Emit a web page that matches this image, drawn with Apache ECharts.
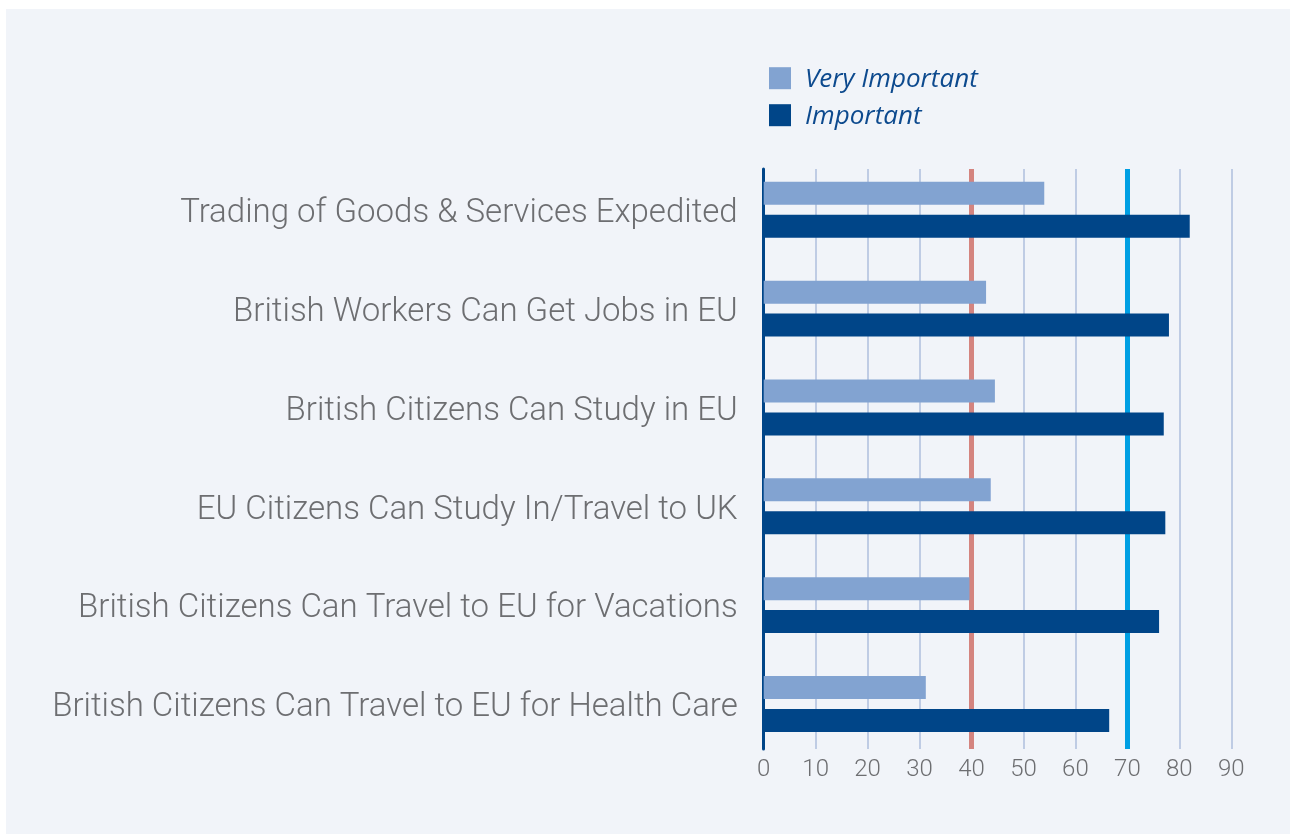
<!DOCTYPE html>
<html>
<head>
<meta charset="utf-8">
<script src="https://cdn.jsdelivr.net/npm/echarts@6/dist/echarts.min.js"></script>
<style>
  html, body { margin: 0; padding: 0; background: #ffffff; }
  #panel { position: absolute; left: 6px; top: 9px; width: 1284px; height: 825px; background: #f1f4f9; }
  #chart { position: absolute; left: 0; top: 0; width: 1290px; height: 834px; }
</style>
</head>
<body>
<div id="panel"></div>
<div id="chart"></div>
<script>
// Survey answers: share of respondents (%)
const categories = [
  'Trading of Goods & Services Expedited',
  'British Workers Can Get Jobs in EU',
  'British Citizens Can Study in EU',
  'EU Citizens Can Study In/Travel to UK',
  'British Citizens Can Travel to EU for Vacations',
  'British Citizens Can Travel to EU for Health Care'
];
const veryImportant = [54, 42.8, 44.5, 43.7, 39.6, 31.2];
const important = [82, 78, 77, 77.3, 76.1, 66.5];
const referenceLines = [40, 70];
const xTicks = { min: 0, max: 90, interval: 10 };

const chart = echarts.init(document.getElementById('chart'), null, { renderer: 'canvas' });

const textGray = '#6d6e71';
const left = 763.7;
const right = 1290 - 1231.3;

chart.setOption({
  animation: false,
  backgroundColor: 'transparent',
  legend: {
    orient: 'vertical',
    left: 769,
    top: 66.7,
    padding: 0,
    itemWidth: 22,
    itemHeight: 22,
    itemGap: 11,
    icon: 'rect',
    data: ['Very Important', 'Important'],
    formatter: '{t|{name}}',
    textStyle: {
      rich: {
        t: {
          color: '#0d4a8e',
          fontStyle: 'italic',
          fontFamily: 'Open Sans',
          fontSize: 26,
          padding: [3, 0, 0, 9]
        }
      }
    }
  },
  grid: [
    // band for the bars and category labels
    { left: left, right: right, top: 160.4, height: 593, containLabel: false },
    // band for gridlines, reference lines and the value axis
    { left: left, right: right, top: 169, bottom: 85, containLabel: false }
  ],
  xAxis: [
    { gridIndex: 0, type: 'value', min: xTicks.min, max: xTicks.max, interval: xTicks.interval, show: false },
    {
      gridIndex: 1, type: 'value', min: xTicks.min, max: xTicks.max, interval: xTicks.interval,
      axisLine: { show: false },
      axisTick: { show: false },
      splitLine: { show: true, lineStyle: { color: '#aebfdc', width: 1.5 } },
      axisLabel: { color: textGray, fontSize: 24, fontFamily: 'Roboto', fontWeight: 300, margin: 9 }
    }
  ],
  yAxis: [
    {
      gridIndex: 0, type: 'category', data: categories, inverse: true,
      axisLine: { show: false },
      axisTick: { show: false },
      splitLine: { show: false },
      axisLabel: {
        margin: 26,
        formatter: '{c|{value}}',
        rich: {
          c: { color: textGray, fontSize: 33, fontFamily: 'Roboto', fontWeight: 300, padding: [8, 0, 0, 0] }
        }
      }
    },
    {
      gridIndex: 1, type: 'category', data: [''],
      axisLine: { show: true, lineStyle: { color: '#004588', width: 3 } },
      axisTick: { show: false },
      axisLabel: { show: false },
      splitLine: { show: false }
    }
  ],
  series: [
    {
      name: 'reference',
      type: 'line',
      xAxisIndex: 1,
      yAxisIndex: 1,
      data: [],
      z: 1,
      markLine: {
        z: 1,
        silent: true,
        symbol: 'none',
        label: { show: false },
        data: [
          { xAxis: referenceLines[0], lineStyle: { color: '#d4847f', width: 5, type: 'solid' } },
          { xAxis: referenceLines[1], lineStyle: { color: '#009fe3', width: 5, type: 'solid' } }
        ]
      }
    },
    {
      name: 'Very Important',
      type: 'bar',
      xAxisIndex: 0,
      yAxisIndex: 0,
      data: veryImportant,
      barWidth: 23,
      barGap: '43%',
      itemStyle: { color: '#82a3d1' },
      z: 6
    },
    {
      name: 'Important',
      type: 'bar',
      xAxisIndex: 0,
      yAxisIndex: 0,
      data: important,
      barWidth: 23,
      barGap: '43%',
      itemStyle: { color: '#004588' },
      z: 6
    }
  ]
});
</script>
</body>
</html>
